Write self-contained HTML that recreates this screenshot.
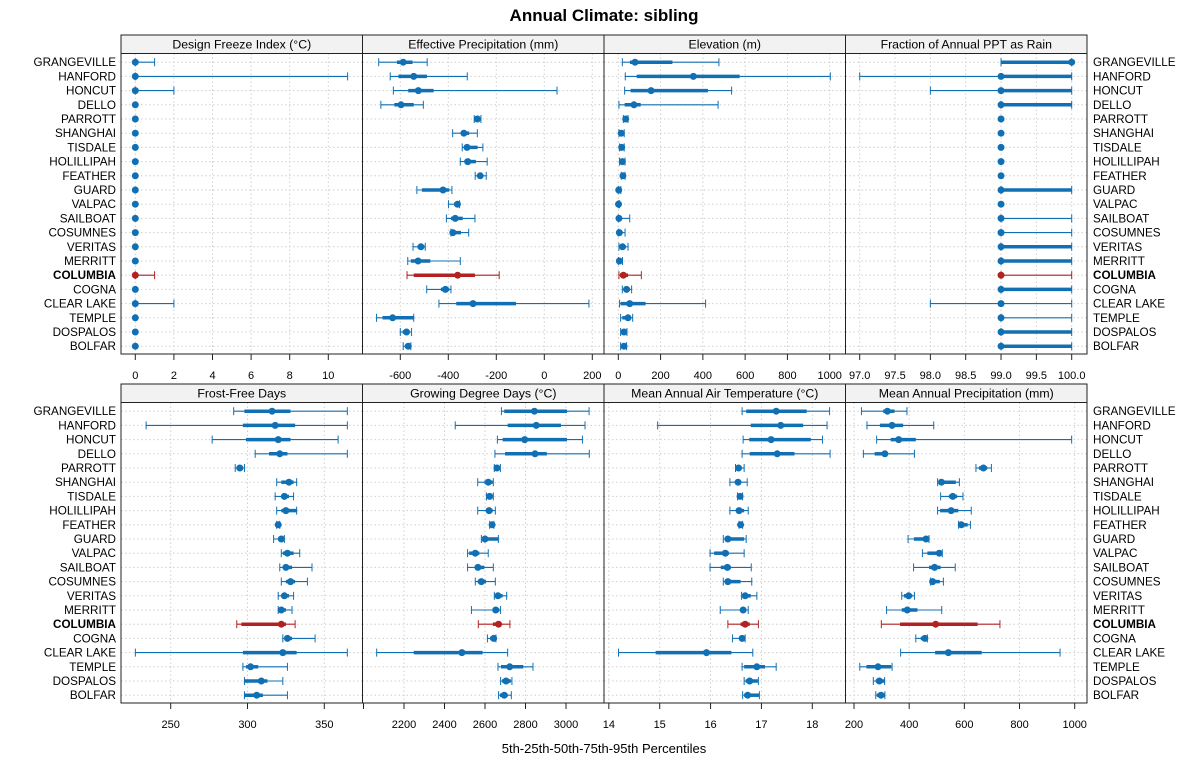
<!DOCTYPE html>
<html><head><meta charset="utf-8"><style>
html,body{margin:0;padding:0;background:#fff;}
svg{display:block;font-family:"Liberation Sans",sans-serif;}
</style></head><body>
<svg id="chart" width="1200" height="775" xmlns="http://www.w3.org/2000/svg">
<text x="604" y="21" text-anchor="middle" font-size="17" font-weight="bold">Annual Climate: sibling</text>
<text x="604" y="753" text-anchor="middle" font-size="13">5th-25th-50th-75th-95th Percentiles</text>
</svg>
<script>
const sites = ["GRANGEVILLE","HANFORD","HONCUT","DELLO","PARROTT","SHANGHAI","TISDALE","HOLILLIPAH","FEATHER","GUARD","VALPAC","SAILBOAT","COSUMNES","VERITAS","MERRITT","COLUMBIA","COGNA","CLEAR LAKE","TEMPLE","DOSPALOS","BOLFAR"];
const highlight = "COLUMBIA";
const panelTitles = ["Design Freeze Index (°C)","Effective Precipitation (mm)","Elevation (m)","Fraction of Annual PPT as Rain","Frost-Free Days","Growing Degree Days (°C)","Mean Annual Air Temperature (°C)","Mean Annual Precipitation (mm)"];
// each row: p5, p25, p50, p75, p95
const designFreeze = [[0,0,0,0,1],[0,0,0,0,11],[0,0,0,0,2],[0,0,0,0,0],[0,0,0,0,0],[0,0,0,0,0],[0,0,0,0,0],[0,0,0,0,0],[0,0,0,0,0],[0,0,0,0,0],[0,0,0,0,0],[0,0,0,0,0],[0,0,0,0,0],[0,0,0,0,0],[0,0,0,0,0],[0,0,0,0,1],[0,0,0,0,0],[0,0,0,0,2],[0,0,0,0,0],[0,0,0,0,0],[0,0,0,0,0]];
const effPrecip = [[-690,-614,-588,-549,-488],[-642,-608,-544,-489,-321],[-629,-567,-525,-461,53],[-681,-625,-597,-544,-504],[-292,-288,-279,-270,-264],[-382,-347,-335,-313,-279],[-342,-333,-322,-278,-256],[-350,-333,-319,-285,-238],[-288,-278,-267,-257,-242],[-531,-510,-422,-396,-385],[-399,-375,-362,-354,-353],[-408,-389,-371,-340,-289],[-389,-386,-381,-347,-315],[-547,-528,-514,-500,-496],[-569,-556,-526,-475,-350],[-572,-544,-361,-289,-188],[-490,-431,-412,-396,-389],[-439,-367,-297,-118,186],[-699,-674,-632,-544,-544],[-600,-590,-574,-563,-553],[-588,-581,-567,-558,-556]];
const elevation = [[19,55,79,256,476],[33,87,355,574,1003],[30,58,155,424,536],[3,30,74,106,472],[24,27,35,46,46],[3,6,14,28,28],[6,9,16,28,28],[6,11,19,30,32],[14,16,22,30,32],[0,1,2,8,12],[0,0,1,4,6],[0,1,3,10,54],[0,2,5,15,32],[3,6,20,35,46],[0,2,5,12,20],[3,8,24,46,109],[19,24,39,55,63],[6,11,54,129,413],[11,19,46,58,68],[11,14,27,39,41],[11,14,27,39,39]];
const fracRain = [[99,99,100,100,100],[97,99,99,100,100],[98,99,99,100,100],[99,99,99,100,100],[99,99,99,99,99],[99,99,99,99,99],[99,99,99,99,99],[99,99,99,99,99],[99,99,99,99,99],[99,99,99,100,100],[99,99,99,99,99],[99,99,99,99,100],[99,99,99,99,100],[99,99,99,100,100],[99,99,99,100,100],[99,99,99,99,100],[99,99,99,100,100],[98,99,99,99,100],[99,99,99,99,100],[99,99,99,100,100],[99,99,99,100,100]];
const frostFree = [[291,298,316,328,365],[234,297,318,331,365],[277,299,320,328,359],[305,314,321,326,365],[292,293,295,297,298],[319,322,327,330,332],[318,322,324,327,330],[319,322,325,332,332],[319,319,320,321,321],[317,320,322,324,324],[322,323,326,330,334],[321,323,325,329,342],[322,325,328,331,339],[320,322,324,327,330],[320,320,322,325,329],[293,296,322,325,331],[323,324,326,329,344],[227,297,323,332,365],[297,299,302,307,326],[298,298,309,313,323],[298,298,306,310,326]];
const gdd = [[2681,2695,2844,3005,3114],[2453,2712,2853,2975,3094],[2661,2687,2796,3005,3081],[2649,2699,2847,2905,3115],[2646,2649,2659,2672,2676],[2564,2597,2616,2638,2641],[2607,2610,2623,2638,2641],[2564,2605,2620,2638,2651],[2623,2627,2635,2643,2644],[2582,2589,2600,2666,2666],[2514,2522,2552,2572,2616],[2514,2555,2565,2597,2641],[2552,2564,2582,2605,2651],[2646,2649,2664,2687,2707],[2533,2638,2653,2671,2677],[2567,2639,2667,2679,2723],[2612,2625,2643,2654,2654],[2065,2248,2486,2588,2712],[2664,2679,2722,2789,2837],[2677,2684,2704,2728,2733],[2667,2674,2695,2712,2730]];
const maat = [[16.62,16.70,17.29,17.89,18.34],[14.96,16.79,17.38,17.82,18.29],[16.64,16.76,17.19,17.97,18.20],[16.62,16.77,17.31,17.65,18.35],[16.49,16.50,16.55,16.60,16.66],[16.38,16.49,16.54,16.59,16.72],[16.53,16.53,16.58,16.62,16.63],[16.38,16.50,16.56,16.66,16.74],[16.56,16.57,16.59,16.62,16.63],[16.25,16.28,16.34,16.66,16.70],[15.99,16.07,16.29,16.36,16.66],[15.99,16.20,16.33,16.40,16.80],[16.25,16.28,16.34,16.59,16.81],[16.61,16.64,16.68,16.79,16.91],[16.19,16.59,16.64,16.69,16.74],[16.34,16.59,16.68,16.77,16.94],[16.43,16.56,16.62,16.68,16.68],[14.19,14.92,15.92,16.41,16.83],[16.62,16.66,16.91,17.07,17.29],[16.66,16.69,16.77,16.93,16.94],[16.63,16.66,16.73,16.96,16.96]];
const map = [[227,306,321,347,392],[247,294,338,378,489],[282,333,362,424,989],[234,275,312,318,419],[642,653,669,683,698],[503,506,517,569,582],[514,544,558,574,595],[503,512,552,578,625],[579,582,589,612,622],[396,417,461,468,472],[448,466,509,520,520],[416,472,492,514,567],[477,479,485,511,524],[373,381,398,411,419],[318,373,393,430,518],[299,367,496,648,729],[424,442,457,466,466],[369,494,542,663,947],[221,245,287,335,338],[270,279,292,311,311],[279,283,298,312,312]];
const panelData = [designFreeze, effPrecip, elevation, fracRain, frostFree, gdd, maat, map];
const tickVals = [[0,2,4,6,8,10],[-600,-400,-200,0,200],[0,200,400,600,800,1000],[97,97.5,98,98.5,99,99.5,100],[250,300,350],[2000,2200,2400,2600,2800,3000],[14,15,16,17,18],[200,400,600,800,1000]];
const tickLabels = [["0","2","4","6","8","10"],["-600","-400","-200","0","200"],["0","200","400","600","800","1000"],["97.0","97.5","98.0","98.5","99.0","99.5","100.0"],["250","300","350"],["","2200","2400","2600","2800","3000"],["14","15","16","17","18"],["200","400","600","800","1000"]];
const calVals = [[0,10],[-600,200],[0,1000],[97,100],[250,350],[2200,3000],[15,18],[200,1000]];
const calPx = [[135.3,328.3],[400.3,592.3],[618.3,829.7],[859.7,1071.7],[170.7,324.3],[404,566],[659.7,812.3],[854,1074.7]];

const NS = "http://www.w3.org/2000/svg";
const svg = document.getElementById("chart");
function mk(tag, attrs, parent){const e=document.createElementNS(NS,tag);for(const k in attrs)e.setAttribute(k,attrs[k]);(parent||svg).appendChild(e);return e;}
const panelX = [121,362.5,604,845.5,1087];
const rowTop = [35,384];
const stripH = 18.5;
const plotH = 300.5;
const firstRowOff = 8.7, rowStep = 14.2;
function xScale(p, v){const c=calVals[p], q=calPx[p];return q[0]+(v-c[0])*(q[1]-q[0])/(c[1]-c[0]);}
function yScale(r, i){return rowTop[r]+stripH+firstRowOff+i*rowStep;}

for(let p=0;p<8;p++){
  const r = p<4?0:1, col=p%4;
  const x0=panelX[col], x1=panelX[col+1];
  const top=rowTop[r], pt=top+stripH, pb=pt+plotH;
  const g = mk("g",{});
  
  
  const st = mk("rect",{x:x0,y:top,width:x1-x0,height:stripH,fill:"#f2f2f2",stroke:"#222","stroke-width":1},g);
  
  
  const stt = mk("text",{x:(x0+x1)/2,y:top+13.5,"text-anchor":"middle","font-size":"12.3"},g);
  stt.textContent = panelTitles[p];
  
  
  for(let i=0;i<sites.length;i++){
    const y=yScale(r,i);
    mk("line",{x1:x0,x2:x1,y1:y,y2:y,stroke:"#cfcfcf","stroke-dasharray":"1.5,2.5","stroke-width":1},g);
  }
  tickVals[p].forEach((v,k)=>{
    const x=xScale(p,v);
    if(x>x0+1 && x<x1-1) mk("line",{x1:x,x2:x,y1:pt,y2:pb,stroke:"#cfcfcf","stroke-dasharray":"1.5,2.5","stroke-width":1},g);
    mk("line",{x1:x,x2:x,y1:pb,y2:pb+6,stroke:"#222","stroke-width":1},g);
    if(tickLabels[p][k]){
      const t=mk("text",{x:x,y:pb+25,"text-anchor":"middle","font-size":"11"},g);
      t.textContent=tickLabels[p][k];
      
      
    }
  });
  panelData[p].forEach((d,i)=>{
    const y=yScale(r,i);
    const c = sites[i]===highlight ? "#b22222" : "#1170b4";
    const a=xScale(p,d[0]), b=xScale(p,d[1]), m=xScale(p,d[2]), e=xScale(p,d[3]), f=xScale(p,d[4]);
    const eg = mk("g",{},g);
    
    
    mk("line",{x1:a,x2:f,y1:y,y2:y,stroke:c,"stroke-width":1.1},eg);
    if(f-a>0.5){
      mk("line",{x1:a,x2:a,y1:y-4,y2:y+4,stroke:c,"stroke-width":1},eg);
      mk("line",{x1:f,x2:f,y1:y-4,y2:y+4,stroke:c,"stroke-width":1},eg);
    }
    mk("line",{x1:b,x2:e,y1:y,y2:y,stroke:c,"stroke-width":3.5},eg);
    mk("circle",{cx:m,cy:y,r:3.5,fill:c},eg);
  });
  const fr = mk("rect",{x:x0,y:pt,width:x1-x0,height:plotH,fill:"none",stroke:"#222","stroke-width":1},g);
  
  
}
for(let r=0;r<2;r++){
  sites.forEach((s,i)=>{
    const y=yScale(r,i)+4;
    const bold = s===highlight ? "bold":"normal";
    const l=mk("text",{x:116,y:y,"text-anchor":"end","font-size":"11.7","font-weight":bold});
    l.textContent=s;
    
    
    const rt=mk("text",{x:1093,y:y,"text-anchor":"start","font-size":"11.7","font-weight":bold});
    rt.textContent=s;
    
    
  });
}
</script>
</body></html>
